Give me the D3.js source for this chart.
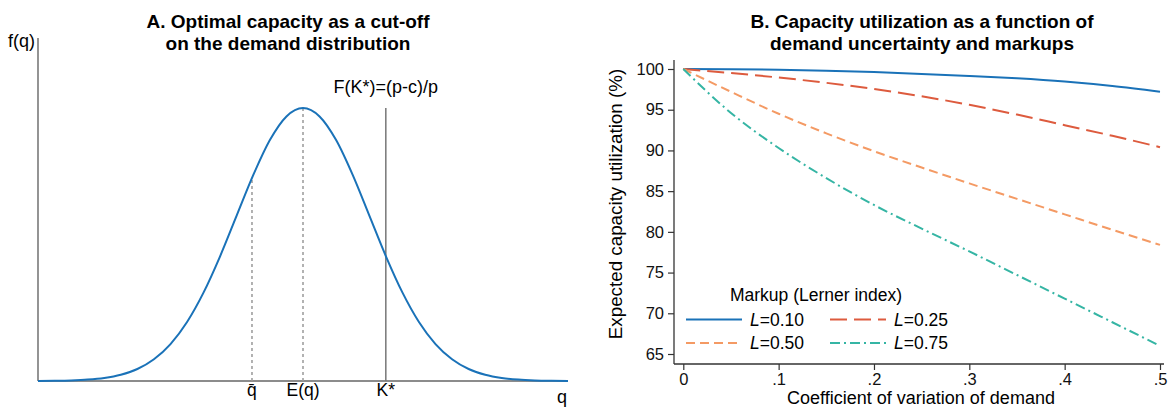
<!DOCTYPE html>
<html><head><meta charset="utf-8">
<script src="https://cdn.jsdelivr.net/npm/d3@7"></script>
<style>body{margin:0;background:#fff}svg{display:block;font-family:"Liberation Sans",Arial,sans-serif}</style>
</head><body><svg id="c" width="1169" height="407"></svg>
<script>
// ---- Panel A data (standardised demand, density relative to peak) ----
const zGrid = [-4,-3.75,-3.5,-3.25,-3,-2.75,-2.5,-2.25,-2,-1.75,-1.5,-1.25,-1,-0.75,-0.5,-0.25,0,0.25,0.5,0.75,1,1.25,1.5,1.75,2,2.25,2.5,2.75,3,3.25,3.5,3.75,4];
const density = [0.0003,0.0009,0.0022,0.0051,0.0111,0.0228,0.0439,0.0796,0.1353,0.2163,0.3247,0.4578,0.6065,0.7548,0.8825,0.9692,1,0.9692,0.8825,0.7548,0.6065,0.4578,0.3247,0.2163,0.1353,0.0796,0.0439,0.0228,0.0111,0.0051,0.0022,0.0009,0.0003];
const markerNames = ["q\u0304","E(q)","K*"];
const markerZ = [-0.77, 0, 1.25];
const markerTop = [0.74, 1, 1];
// ---- Panel B data ----
const cv = [0,0.05,0.1,0.15,0.2,0.25,0.3,0.35,0.4,0.45,0.5];
const seriesNames = ["0.10","0.25","0.50","0.75"];
const util10 = [100,99.98,99.92,99.8,99.62,99.4,99.15,98.85,98.45,97.9,97.2];
const util25 = [100,99.5,98.95,98.3,97.55,96.65,95.6,94.4,93.1,91.8,90.4];
const util50 = [100,97.2,94.5,92.1,89.9,87.9,85.95,84.05,82.15,80.25,78.4];
const util75 = [100,94.6,90.3,86.6,83.3,80.4,77.6,74.7,71.8,68.9,66.0];
const xTicks = [0,0.1,0.2,0.3,0.4,0.5];
const xTickLabels = ["0",".1",".2",".3",".4",".5"];
const yTicks = [65,70,75,80,85,90,95,100];

const svg = d3.select("#c");
const colors = ["#1a72b8","#dd5b3e","#f49a64","#35b5a4"];
const dashes = [null,"17,7","9,5","10,4,2,4"];

// ================= Panel A =================
const gA = svg.append("g");
const xA = d3.scaleLinear().domain([-4,4]).range([38,568]);
const yA = d3.scaleLinear().domain([0,1]).range([381,108]);
const axCol = "#666";
gA.append("line").attr("x1",38).attr("x2",38).attr("y1",38).attr("y2",381).attr("stroke",axCol).attr("stroke-width",1.4);
gA.append("line").attr("x1",38).attr("x2",568).attr("y1",381).attr("y2",381).attr("stroke",axCol).attr("stroke-width",1.4);
markerZ.forEach((z,i)=>{
  gA.append("line").attr("x1",xA(z)).attr("x2",xA(z)).attr("y1",yA(0)).attr("y2",yA(markerTop[i]))
    .attr("stroke", i===2? "#777":"#999").attr("stroke-width",1.5)
    .attr("stroke-dasharray", i===2? null:"3,3");
  gA.append("text").attr("x",xA(z)).attr("y",396).attr("text-anchor","middle")
    .attr("font-size",17.5).text(markerNames[i]);
});
gA.append("path").datum(zGrid.map((z,i)=>[z,density[i]]))
  .attr("d", d3.line().x(d=>xA(d[0])).y(d=>yA(d[1])).curve(d3.curveMonotoneX))
  .attr("fill","none").attr("stroke",colors[0]).attr("stroke-width",2);
gA.append("text").attr("x",xA(markerZ[2])).attr("y",93).attr("text-anchor","middle").attr("font-size",18).text("F(K*)=(p-c)/p");
gA.append("text").attr("x",35).attr("y",47).attr("text-anchor","end").attr("font-size",18).text("f(q)");
gA.append("text").attr("x",562).attr("y",403).attr("text-anchor","middle").attr("font-size",18).text("q");
const tA = gA.append("text").attr("text-anchor","middle").attr("font-weight","bold").attr("font-size",19);
tA.append("tspan").attr("x",288).attr("y",28).text("A. Optimal capacity as a cut-off");
tA.append("tspan").attr("x",288).attr("y",50).text("on the demand distribution");

// ================= Panel B =================
const gB = svg.append("g");
const xB = d3.scaleLinear().domain([0,0.5]).range([683.3,1160]);
const yB = d3.scaleLinear().domain([65,100]).range([354,69]);
const axB = "#333";
gB.append("line").attr("x1",674).attr("x2",674).attr("y1",60).attr("y2",364).attr("stroke",axB).attr("stroke-width",1.3);
gB.append("line").attr("x1",674).attr("x2",1164).attr("y1",364).attr("y2",364).attr("stroke",axB).attr("stroke-width",1.3);
const yAx = gB.append("g").attr("transform","translate(674,0)")
  .call(d3.axisLeft(yB).tickValues(yTicks).tickSize(6).tickPadding(4));
const xAx = gB.append("g").attr("transform","translate(0,364)")
  .call(d3.axisBottom(xB).tickValues(xTicks).tickFormat((d,i)=>xTickLabels[i]).tickSize(6).tickPadding(3));
[yAx,xAx].forEach(a=>{a.select(".domain").remove();
  a.selectAll("line").attr("stroke",axB).attr("stroke-width",1.2);
  a.selectAll("text").attr("font-size",16.5).attr("fill","#111").attr("font-family","Liberation Sans, Arial, sans-serif");});
const allSeries = [util10,util25,util50,util75];
const lineB = d3.line().x((d,i)=>xB(cv[i])).y(d=>yB(d)).curve(d3.curveMonotoneX);
allSeries.forEach((s,k)=>{
  gB.append("path").datum(s).attr("d",lineB).attr("fill","none")
    .attr("stroke",colors[k]).attr("stroke-width",2).attr("stroke-dasharray",dashes[k]);
});
gB.append("text").attr("transform","translate(622,204) rotate(-90)").attr("text-anchor","middle")
  .attr("font-size",18.8).text("Expected capacity utilization (%)");
gB.append("text").attr("x",921).attr("y",404).attr("text-anchor","middle").attr("font-size",18).text("Coefficient of variation of demand");
const tB = gB.append("text").attr("text-anchor","middle").attr("font-weight","bold").attr("font-size",19);
tB.append("tspan").attr("x",922).attr("y",28).text("B. Capacity utilization as a function of");
tB.append("tspan").attr("x",922).attr("y",50).text("demand uncertainty and markups");
// legend
const lg = gB.append("g");
lg.append("text").attr("x",816).attr("y",301).attr("text-anchor","middle").attr("font-size",17.5).text("Markup (Lerner index)");
seriesNames.forEach((n,k)=>{
  const col = k%2, row = Math.floor(k/2);
  const x0 = 686 + col*144, y0 = 319.5 + row*23.5;
  lg.append("line").attr("x1",x0).attr("x2",x0+56).attr("y1",y0).attr("y2",y0)
    .attr("stroke",colors[k]).attr("stroke-width",2).attr("stroke-dasharray",dashes[k]);
  const t = lg.append("text").attr("x",x0+64).attr("y",y0+6).attr("font-size",17.5);
  t.append("tspan").attr("font-style","italic").text("L");
  t.append("tspan").text("="+n);
});
</script></body></html>
